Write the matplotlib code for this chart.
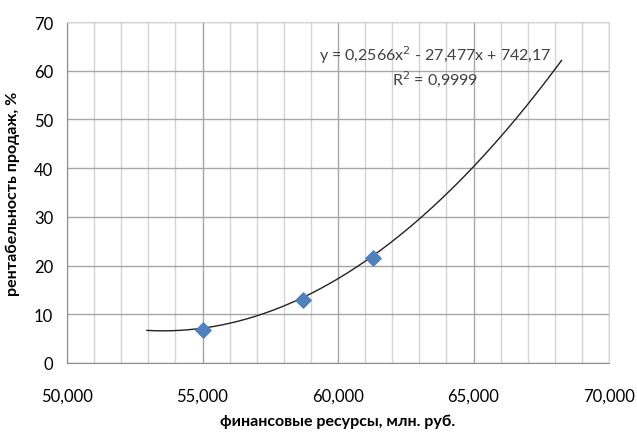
import numpy as np
import matplotlib
matplotlib.use("Agg")
import matplotlib.pyplot as plt
from matplotlib.ticker import MultipleLocator, FuncFormatter

plt.rcParams["font.family"] = ["Lato", "Noto Sans", "DejaVu Sans"]

# observed points
resources = [55.0, 58.7, 61.3]
profitability = [6.8, 13.0, 21.6]

# trendline as shown on the chart
trend_coef = [0.2566, -27.477, 742.17]
trend_range = [52.95, 68.25]

eq_text = "y = 0,2566x$^2$ - 27,477x + 742,17"
r2_text = "R$^2$ = 0,9999"

fig = plt.figure(figsize=(6.37, 4.35), dpi=100)
ax = fig.add_axes([67 / 637, 1 - 364 / 435, (609 - 67) / 637, (364 - 23) / 435])

xs = np.linspace(trend_range[0], trend_range[1], 200)
ax.plot(xs, np.polyval(trend_coef, xs), color="#222222", lw=1.0, zorder=3)
ax.scatter(resources, profitability, marker="D", s=60, color="#4f81bd", zorder=4)

ax.set_xlim(50, 70)
ax.set_ylim(0, 70)
ax.xaxis.set_major_locator(MultipleLocator(5))
ax.xaxis.set_minor_locator(MultipleLocator(1))
ax.yaxis.set_major_locator(MultipleLocator(10))
ax.xaxis.set_major_formatter(FuncFormatter(lambda v, p: f"{v:.3f}".replace(".", ",")))

ax.grid(which="major", color="#a6a6a6", lw=1.0)
ax.grid(which="minor", axis="x", color="#d4d4d4", lw=1.0)
ax.set_axisbelow(True)
for s in ["top", "right"]:
    ax.spines[s].set_color("#d4d4d4")
for s in ["left", "bottom"]:
    ax.spines[s].set_color("#8c8c8c")
ax.tick_params(which="both", length=0, labelsize=12, colors="#000000")
ax.tick_params(axis="x", pad=18)
ax.tick_params(axis="y", pad=10)

ax.set_xlabel("финансовые ресурсы, млн. руб.", fontsize=11.5, fontweight="bold", labelpad=7)
ax.set_ylabel("рентабельность продаж, %", fontsize=11.5, fontweight="bold", labelpad=10)

ax.text(0.68, 0.905, eq_text, transform=ax.transAxes, ha="center", va="center",
        fontsize=11.5, color="#404040")
ax.text(0.68, 0.835, r2_text, transform=ax.transAxes, ha="center", va="center",
        fontsize=11.5, color="#404040")

fig.savefig("out.png", dpi=100)
